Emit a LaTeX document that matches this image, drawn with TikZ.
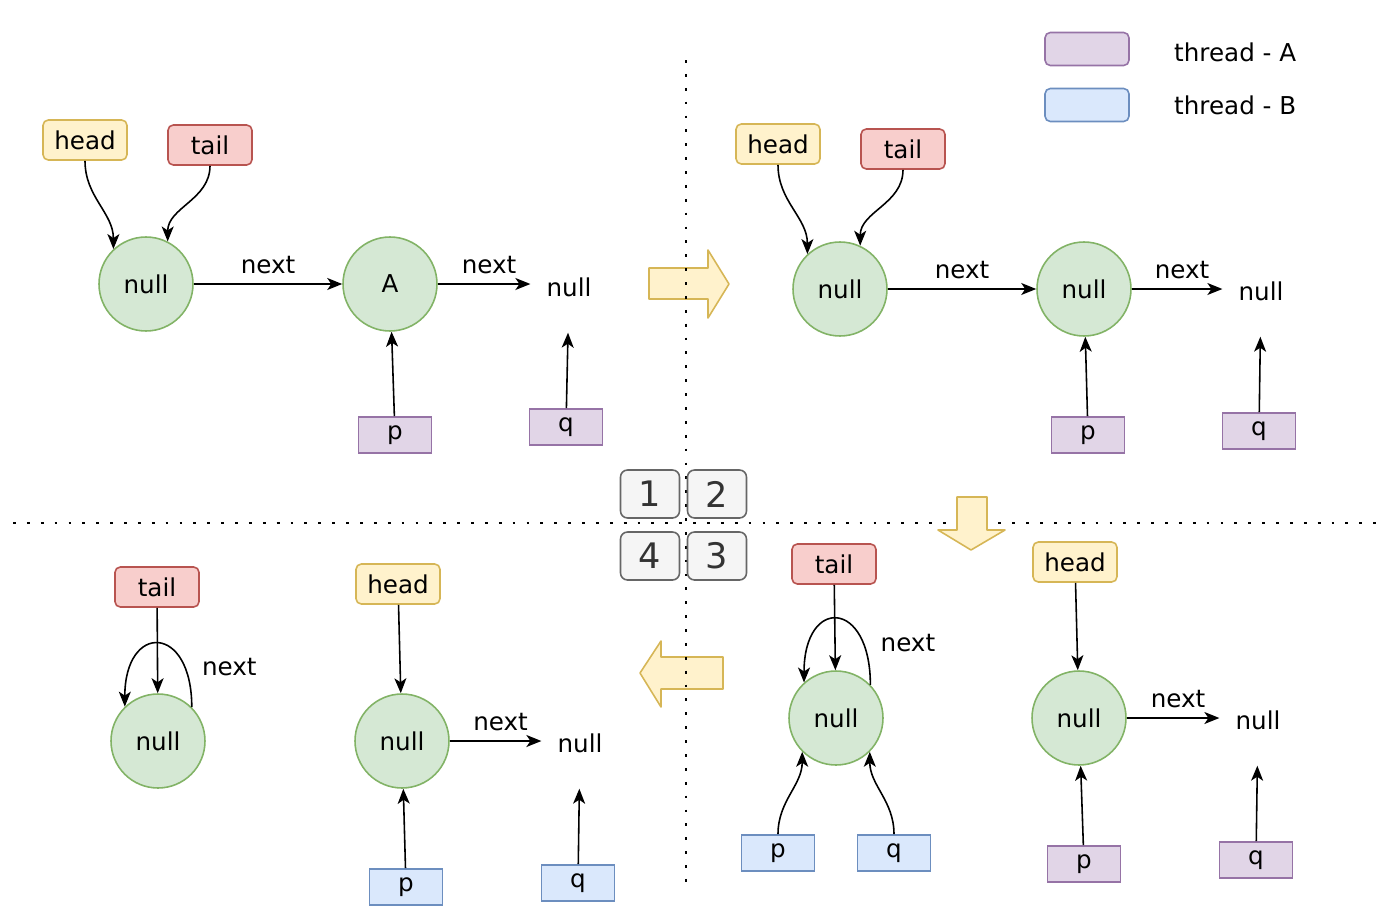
\documentclass[tikz,border=0pt]{standalone}
\usepackage{fontspec}
\setmainfont{DejaVu Sans}
\usetikzlibrary{arrows.meta}

\definecolor{nodefill}{HTML}{D5E8D4}
\definecolor{nodeline}{HTML}{82B366}
\definecolor{headfill}{HTML}{FFF2CC}
\definecolor{headline}{HTML}{D6B656}
\definecolor{tailfill}{HTML}{F8CECC}
\definecolor{tailline}{HTML}{B85450}
\definecolor{afill}{HTML}{E1D5E7}
\definecolor{aline}{HTML}{9673A6}
\definecolor{bfill}{HTML}{DAE8FC}
\definecolor{bline}{HTML}{6C8EBF}
\definecolor{numfill}{HTML}{F5F5F5}
\definecolor{numline}{HTML}{666666}

\begin{document}
\begin{tikzpicture}[x=0.02cm, y=-0.02cm,
    every node/.style={font=\fontsize{14}{16}\selectfont},
    nd/.style={circle, draw=nodeline, fill=nodefill, line width=0.9pt, minimum size=1.88cm, inner sep=0pt},
    ptr/.style={rounded corners=3pt, line width=0.9pt, minimum width=1.68cm, minimum height=0.8cm},
    headbox/.style={ptr, draw=headline, fill=headfill},
    tailbox/.style={ptr, draw=tailline, fill=tailfill},
    vara/.style={draw=aline, fill=afill, line width=0.9pt, minimum width=1.46cm, minimum height=0.72cm},
    varb/.style={draw=bline, fill=bfill, line width=0.9pt, minimum width=1.46cm, minimum height=0.72cm},
    link/.style={-{Stealth[length=0.3cm, width=0.24cm, inset=0.08cm]}, line width=0.9pt},
    blockarrow/.style={draw=headline, fill=headfill, line width=0.9pt, line join=round},
    sep/.style={line width=1.6pt, dash pattern=on 1.6pt off 6.3pt},
    num/.style={rounded corners=4pt, draw=numline, fill=numfill, line width=0.9pt, minimum width=1.18cm, minimum height=0.96cm, font=\fontsize{20}{24}\selectfont, text=black!80},
  ]
    \useasboundingbox (0,0) rectangle (1387,923);

    % horizontal separator
    \draw[sep] (13,523) -- (1381,523);

    % block arrows between steps
    \draw[blockarrow] (649,268) -- (708,268) -- (708,250) -- (729,284) -- (708,318) -- (708,299) -- (649,299) -- cycle;
    \draw[blockarrow] (957,497) -- (987,497) -- (987,530) -- (1005,530) -- (971,550) -- (938,530) -- (957,530) -- cycle;
    \draw[blockarrow] (723,657) -- (661,657) -- (661,641) -- (640,673) -- (661,707) -- (661,689) -- (723,689) -- cycle;

    % vertical separator
    \draw[sep] (686,60) -- (686,888);

    % step numbers
    \node[num] (s1) at (650,494) {1};
    \node[num] (s2) at (717,494) {2};
    \node[num] (s4) at (650,556) {4};
    \node[num] (s3) at (717,556) {3};

    % legend
    \node[vara, rounded corners=3pt, minimum width=1.68cm, minimum height=0.66cm] (la) at (1087,49) {};
    \node[varb, rounded corners=3pt, minimum width=1.68cm, minimum height=0.66cm] (lb) at (1087,105) {};
    \node[anchor=west] (ta) at (1168,52) {thread - A};
    \node[anchor=west] (tb) at (1168,105) {thread - B};

    % step 1
    \node[nd] (n1) at (146,284) {null};
    \node[nd] (a1) at (390,284) {A};
    \node (nl1) at (569,287) {null};
    \node[headbox] (h1) at (85,140) {head};
    \node[tailbox] (t1) at (210,145) {tail};
    \node[vara] (p1) at (395,435) {p};
    \node[vara] (q1) at (566,427) {q};
    \draw[link] (h1.south) to[out=-90, in=90] (n1.133);
    \draw[link] (t1.south) to[out=-90, in=90] (n1.63);
    \draw[link] (n1) -- node[above=2pt] {next} (a1);
    \draw[link, shorten >=0.2cm] (a1) -- node[above=2pt] {next} (a1 -| nl1.west);
    \draw[link] (p1) -- (a1);
    \draw[link, shorten >=0.6cm] (q1) -- (nl1);

    % step 2
    \node[nd] (n2) at (840,289) {null};
    \node[nd] (m2) at (1084,289) {null};
    \node (nl2) at (1261,291) {null};
    \node[headbox] (h2) at (778,144) {head};
    \node[tailbox] (t2) at (903,149) {tail};
    \node[vara] (p2) at (1088,435) {p};
    \node[vara] (q2) at (1259,431) {q};
    \draw[link] (h2.south) to[out=-90, in=90] (n2.133);
    \draw[link] (t2.south) to[out=-90, in=90] (n2.65);
    \draw[link] (n2) -- node[above=2pt] {next} (m2);
    \draw[link, shorten >=0.2cm] (m2) -- node[above=2pt] {next} (m2 -| nl2.west);
    \draw[link] (p2) -- (m2);
    \draw[link, shorten >=0.6cm] (q2) -- (nl2);

    % step 3
    \node[nd] (n3) at (836,718) {null};
    \node[tailbox] (t3) at (834,564) {tail};
    \node[varb] (p3) at (778,853) {p};
    \node[varb] (q3) at (894,853) {q};
    \draw[link] (n3.44) .. controls +(0,-86) and +(0,-86) .. (n3.132) node[pos=0.2, right=6pt] {next};
    \draw[link] (t3) -- (n3);
    \draw[link] (p3.north) to[out=90, in=-90] (n3.225);
    \draw[link] (q3.north) to[out=90, in=-90] (n3.315);
    \node[nd] (m3) at (1079,718) {null};
    \node (nl3) at (1258,720) {null};
    \node[headbox] (h3) at (1075,562) {head};
    \node[vara] (pa3) at (1084,864) {p};
    \node[vara] (qa3) at (1256,860) {q};
    \draw[link] (h3) -- (m3);
    \draw[link, shorten >=0.2cm] (m3) -- node[above=2pt] {next} (m3 -| nl3.west);
    \draw[link] (pa3) -- (m3);
    \draw[link, shorten >=0.6cm] (qa3) -- (nl3);

    % step 4
    \node[nd] (n4) at (158,741) {null};
    \node[tailbox] (t4) at (157,587) {tail};
    \draw[link] (n4.45) .. controls +(0,-84) and +(0,-84) .. (n4.134) node[pos=0.2, right=6pt] {next};
    \draw[link] (t4) -- (n4);
    \node[nd] (m4) at (402,741) {null};
    \node (nl4) at (580,743) {null};
    \node[headbox] (h4) at (398,584) {head};
    \node[varb] (p4) at (406,887) {p};
    \node[varb] (q4) at (578,883) {q};
    \draw[link] (h4) -- (m4);
    \draw[link, shorten >=0.2cm] (m4) -- node[above=2pt] {next} (m4 -| nl4.west);
    \draw[link] (p4) -- (m4);
    \draw[link, shorten >=0.6cm] (q4) -- (nl4);
\end{tikzpicture}
\end{document}
